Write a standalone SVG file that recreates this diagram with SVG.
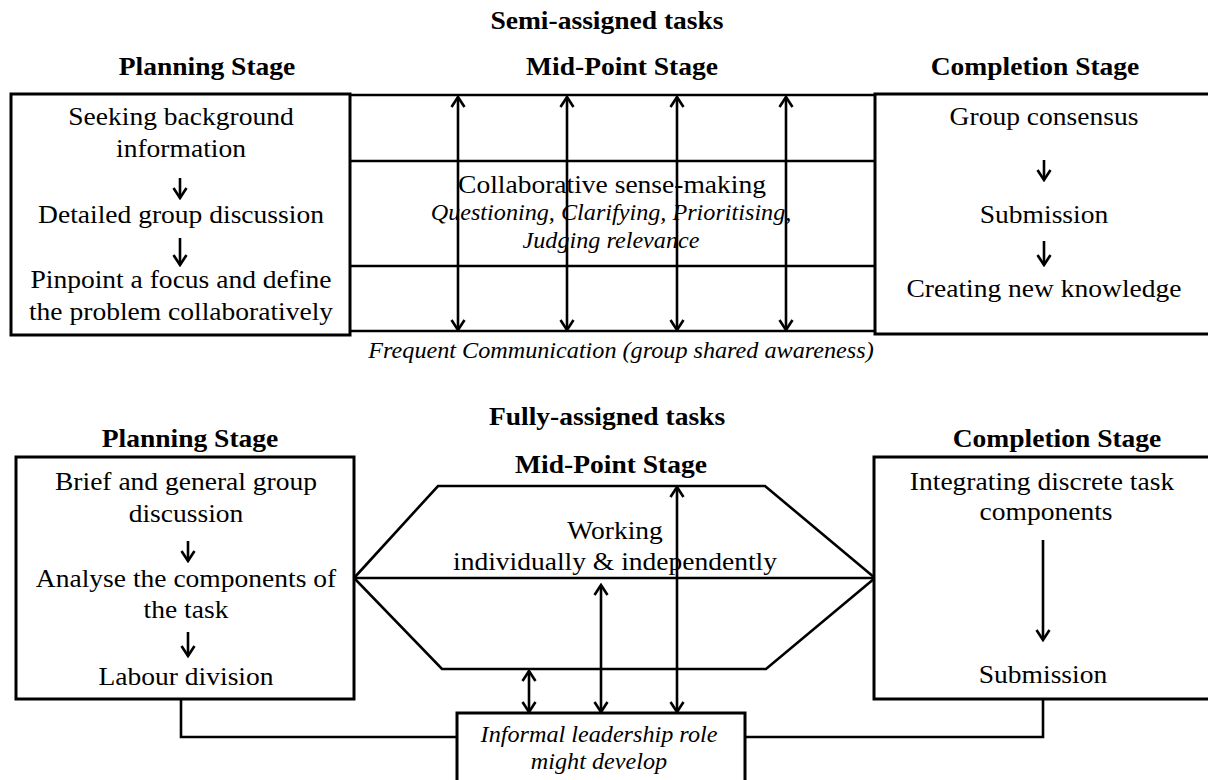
<svg xmlns="http://www.w3.org/2000/svg" width="1208" height="780" viewBox="0 0 1208 780">
  <style>
    .box { fill: #fff; stroke: #000; stroke-width: 3; }
    .ln { fill: none; stroke: #000; stroke-width: 2.6; }
    .arr { fill: none; stroke: #000; stroke-width: 2.6; marker-end: url(#head); }
    .dbl { fill: none; stroke: #000; stroke-width: 2.6; marker-start: url(#head); marker-end: url(#head); }
    text { font-family: "Liberation Serif", "Times New Roman", serif; fill: #000; text-anchor: middle; }
    .t { font-size: 25.5px; }
    .h { font-size: 25.5px; font-weight: bold; }
    .i { font-size: 22.4px; font-style: italic; }
  </style>
  <defs>
    <marker id="head" viewBox="0 0 14 16" refX="12" refY="8" markerWidth="14" markerHeight="16" markerUnits="userSpaceOnUse" orient="auto-start-reverse">
      <path d="M2,1.5 L12,8 L2,14.5" fill="none" stroke="#000" stroke-width="2.6"/>
    </marker>
  </defs>

  <!-- Semi-assigned tasks -->
  <g id="semi-titles">
    <text class="h" transform="translate(607,29) scale(1.08,1)">Semi-assigned tasks</text>
    <text class="h" transform="translate(207,75) scale(1.08,1)">Planning Stage</text>
    <text class="h" transform="translate(622,75) scale(1.08,1)">Mid-Point Stage</text>
    <text class="h" transform="translate(1035,75) scale(1.08,1)">Completion Stage</text>
  </g>

  <g id="semi-midpoint">
    <line class="ln" x1="350" y1="95" x2="876" y2="95"/>
    <line class="ln" x1="350" y1="161" x2="876" y2="161"/>
    <line class="ln" x1="350" y1="266" x2="876" y2="266"/>
    <line class="ln" x1="350" y1="331" x2="876" y2="331"/>
    <text class="t" transform="translate(612,193) scale(1.08,1)">Collaborative sense-making</text>
    <text class="i" transform="translate(611,220) scale(1.08,1)">Questioning, Clarifying, Prioritising,</text>
    <text class="i" transform="translate(611,248) scale(1.08,1)">Judging relevance</text>
    <text class="i" transform="translate(621,358) scale(1.08,1)">Frequent Communication (group shared awareness)</text>
  </g>

  <g id="semi-planning">
    <rect class="box" x="11" y="94" width="339" height="241"/>
    <text class="t" transform="translate(181,125) scale(1.08,1)">Seeking background</text>
    <text class="t" transform="translate(181,157) scale(1.08,1)">information</text>
    <text class="t" transform="translate(181,223) scale(1.08,1)">Detailed group discussion</text>
    <text class="t" transform="translate(181,288) scale(1.08,1)">Pinpoint a focus and define</text>
    <text class="t" transform="translate(181,320) scale(1.08,1)">the problem collaboratively</text>
  </g>

  <g id="semi-completion">
    <rect class="box" x="875" y="94" width="345" height="240"/>
    <text class="t" transform="translate(1044,125) scale(1.08,1)">Group consensus</text>
    <text class="t" transform="translate(1044,223) scale(1.08,1)">Submission</text>
    <text class="t" transform="translate(1044,297) scale(1.08,1)">Creating new knowledge</text>
  </g>

  <!-- Fully-assigned tasks -->
  <g id="fully-titles">
    <text class="h" transform="translate(607,425) scale(1.08,1)">Fully-assigned tasks</text>
    <text class="h" transform="translate(190,447) scale(1.08,1)">Planning Stage</text>
    <text class="h" transform="translate(611,473) scale(1.08,1)">Mid-Point Stage</text>
    <text class="h" transform="translate(1057,447) scale(1.08,1)">Completion Stage</text>
  </g>

  <g id="fully-midpoint">
    <polygon class="ln" points="354,578 438,486 765,486 875,578 766,669 442,669"/>
    <line class="ln" x1="354" y1="578" x2="879" y2="578"/>
    <text class="t" transform="translate(615,539) scale(1.08,1)">Working</text>
    <text class="t" transform="translate(615,570) scale(1.08,1)">individually &amp; independently</text>
  </g>

  <g id="fully-planning">
    <rect class="box" x="16" y="457" width="338" height="242"/>
    <text class="t" transform="translate(186,490) scale(1.08,1)">Brief and general group</text>
    <text class="t" transform="translate(186,522) scale(1.08,1)">discussion</text>
    <text class="t" transform="translate(186,587) scale(1.08,1)">Analyse the components of</text>
    <text class="t" transform="translate(186,618) scale(1.08,1)">the task</text>
    <text class="t" transform="translate(186,685) scale(1.08,1)">Labour division</text>
  </g>

  <g id="fully-completion">
    <rect class="box" x="874" y="457" width="345" height="242"/>
    <text class="t" transform="translate(1042,490) scale(1.08,1)">Integrating discrete task</text>
    <text class="t" transform="translate(1046,520) scale(1.08,1)">components</text>
    <text class="t" transform="translate(1043,683) scale(1.08,1)">Submission</text>
  </g>

  <g id="leadership">
    <rect class="box" x="457" y="713" width="288" height="80"/>
    <text class="i" transform="translate(599,742) scale(1.08,1)">Informal leadership role</text>
    <text class="i" transform="translate(599,769) scale(1.08,1)">might develop</text>
  </g>

  <!-- connectors -->
  <g id="connectors">
    <!-- semi-assigned: steps inside the stage boxes -->
    <line class="arr" x1="180" y1="178" x2="180" y2="198"/>
    <line class="arr" x1="180" y1="238" x2="180" y2="265"/>
    <line class="arr" x1="1044" y1="160" x2="1044" y2="180"/>
    <line class="arr" x1="1044" y1="241" x2="1044" y2="265"/>
    <!-- semi-assigned: communication across the mid-point -->
    <line class="dbl" x1="458" y1="97" x2="458" y2="330"/>
    <line class="dbl" x1="567" y1="97" x2="567" y2="330"/>
    <line class="dbl" x1="677" y1="97" x2="677" y2="330"/>
    <line class="dbl" x1="786" y1="97" x2="786" y2="330"/>
    <!-- fully-assigned: steps inside the stage boxes -->
    <line class="arr" x1="188" y1="541" x2="188" y2="561"/>
    <line class="arr" x1="188" y1="632" x2="188" y2="656"/>
    <line class="arr" x1="1043" y1="540" x2="1043" y2="640"/>
    <!-- fully-assigned: links to the leadership box -->
    <line class="dbl" x1="529" y1="671" x2="529" y2="712"/>
    <line class="dbl" x1="601" y1="585" x2="601" y2="712"/>
    <line class="dbl" x1="677" y1="487" x2="677" y2="712"/>
    <path class="ln" d="M181,699 V737 H457"/>
    <path class="ln" d="M745,737 H1043 V699"/>
  </g>
</svg>
